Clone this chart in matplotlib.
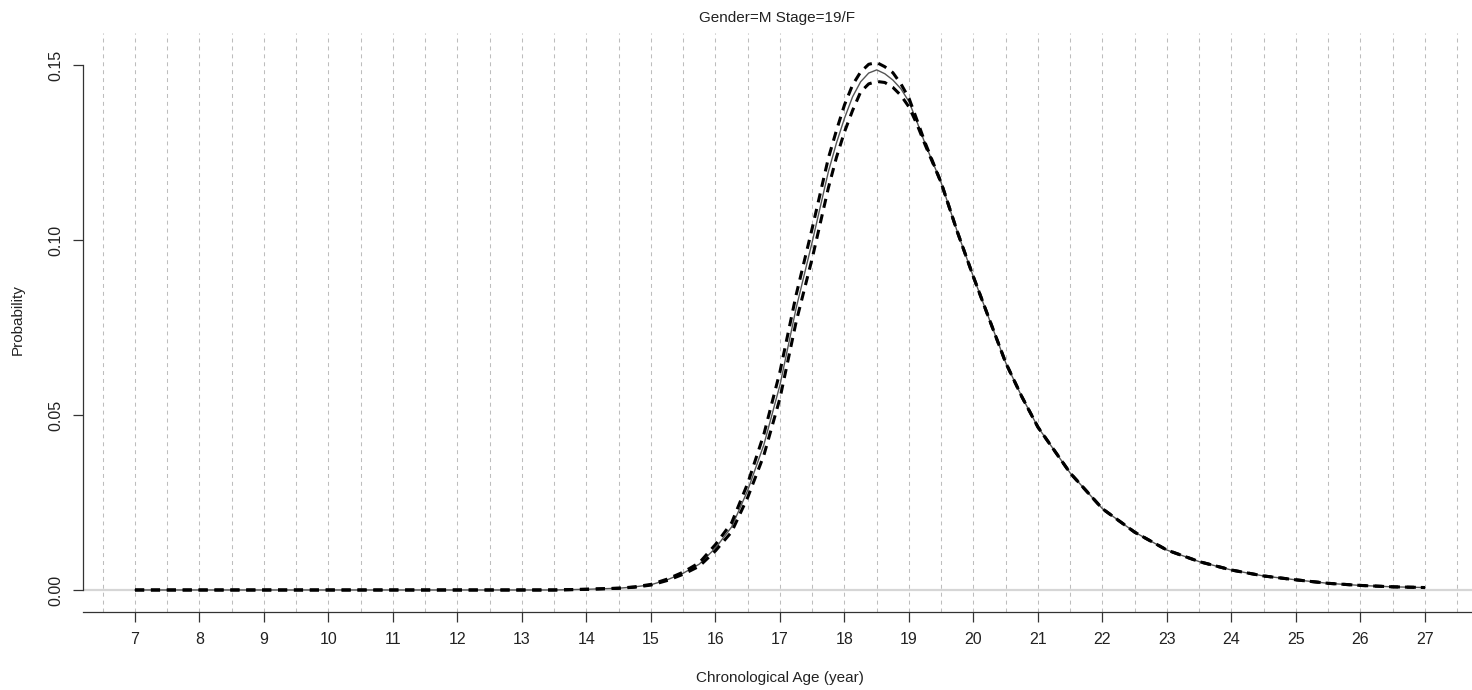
import matplotlib
matplotlib.use("Agg")
import matplotlib.pyplot as plt

plt.rcParams["font.family"] = ["Liberation Sans", "DejaVu Sans"]

# Chronological age grid (years)
ages = [7.0, 7.5, 8.0, 8.5, 9.0, 9.5, 10.0, 10.5, 11.0, 11.5, 12.0, 12.5,
        13.0, 13.5, 14.0, 14.5, 14.75, 15.0, 15.25, 15.5, 15.75, 16.0, 16.25,
        16.5, 16.75, 17.0, 17.25, 17.5, 17.75, 17.875, 18.0, 18.125, 18.25,
        18.375, 18.5, 18.625, 18.75, 18.875, 19.0, 19.125, 19.25, 19.5,
        19.75, 20.0, 20.25, 20.5, 20.75, 21.0, 21.5, 22.0, 22.5, 23.0, 23.5,
        24.0, 24.5, 25.0, 25.5, 26.0, 26.5, 27.0]

# Estimated probability density
prob_mid = [0.0, 0.0, 0.0, 0.0, 0.0, 0.0, 0.0, 0.0, 0.0, 0.0, 0.0, 0.0,
            0.0, 0.0, 0.0002, 0.0005, 0.0009, 0.0015, 0.0029, 0.0048, 0.0074,
            0.0120, 0.0180, 0.0285, 0.0415, 0.0586, 0.0805, 0.0995, 0.1195,
            0.1277, 0.1348, 0.1409, 0.1452, 0.1477, 0.1486, 0.1475, 0.1457,
            0.1432, 0.1395, 0.1337, 0.1275, 0.1163, 0.1023, 0.0894, 0.0771,
            0.0649, 0.0552, 0.0465, 0.0334, 0.0232, 0.0165, 0.0114, 0.0081,
            0.0057, 0.0040, 0.0029, 0.0019, 0.0013, 0.0009, 0.0007]

# Upper confidence band
prob_hi = [0.0, 0.0, 0.0, 0.0, 0.0, 0.0, 0.0, 0.0, 0.0, 0.0, 0.0, 0.0,
           0.0, 0.0, 0.0002, 0.0005, 0.0009, 0.0016, 0.0031, 0.0051, 0.0078,
           0.0130, 0.0192, 0.0305, 0.0445, 0.0624, 0.0843, 0.1034, 0.1234,
           0.1313, 0.1386, 0.1443, 0.1480, 0.1502, 0.1507, 0.1495, 0.1478,
           0.1446, 0.1405, 0.1342, 0.1278, 0.1163, 0.1023, 0.0894, 0.0771,
           0.0649, 0.0552, 0.0465, 0.0334, 0.0232, 0.0165, 0.0114, 0.0081,
           0.0057, 0.0040, 0.0029, 0.0019, 0.0013, 0.0009, 0.0007]

# Lower confidence band
prob_lo = [0.0, 0.0, 0.0, 0.0, 0.0, 0.0, 0.0, 0.0, 0.0, 0.0, 0.0, 0.0,
           0.0, 0.0, 0.0002, 0.0005, 0.0008, 0.0014, 0.0027, 0.0045, 0.0068,
           0.0112, 0.0166, 0.0265, 0.0385, 0.0548, 0.0766, 0.0948, 0.1149,
           0.1236, 0.1309, 0.1370, 0.1423, 0.1446, 0.1453, 0.1450, 0.1436,
           0.1413, 0.1380, 0.1330, 0.1272, 0.1163, 0.1023, 0.0894, 0.0771,
           0.0649, 0.0552, 0.0465, 0.0334, 0.0232, 0.0165, 0.0114, 0.0081,
           0.0057, 0.0040, 0.0029, 0.0019, 0.0013, 0.0009, 0.0007]

x_ticks = list(range(7, 28))
y_ticks = [0.00, 0.05, 0.10, 0.15]
y_tick_labels = ["0.00", "0.05", "0.10", "0.15"]
grid_ages = [6.5 + 0.5 * i for i in range(43)]

title = "Gender=M Stage=19/F"
x_title = "Chronological Age (year)"
y_title = "Probability"

W, H = 1472, 690
fig = plt.figure(figsize=(W / 100, H / 100), dpi=100)

left_px, right_px = 83.4, 1476.6
top_px, bottom_px = 33.0, 612.0
ax = fig.add_axes([left_px / W, (H - bottom_px) / H,
                   (right_px - left_px) / W, (bottom_px - top_px) / H])
ax.set_xlim(6.2, 27.8)
ax.set_ylim(-0.00629, 0.15914)

# half-year reference lines
for g in grid_ages:
    ax.axvline(g, color="#bdbdbd", lw=0.75, dashes=(3.8, 3.8), zorder=1)
ax.axhline(0.0, color="#d6d6d6", lw=1.6, zorder=1)

ax.plot(ages, prob_mid, color="#555555", lw=1.0, zorder=3,
        solid_joinstyle="round")
ax.plot(ages, prob_hi, color="black", lw=2.2, dashes=(3.0, 2.2), zorder=4,
        dash_joinstyle="round")
ax.plot(ages, prob_lo, color="black", lw=2.2, dashes=(3.0, 2.2), zorder=4,
        dash_joinstyle="round")

for side in ("top", "right"):
    ax.spines[side].set_visible(False)
ax.spines["left"].set_bounds(0.0, 0.15)
for side in ("left", "bottom"):
    ax.spines[side].set_color("#333333")
    ax.spines[side].set_linewidth(0.9)

ax.set_xticks(x_ticks)
ax.set_xticklabels([str(t) for t in x_ticks])
ax.set_yticks(y_ticks)
ax.set_yticklabels(y_tick_labels, rotation=90, va="center")
ax.tick_params(axis="both", direction="out", length=7.2, width=0.9,
               color="#333333", labelcolor="#222222", labelsize=11.5, pad=7)

fig.text(777 / W, 1 - 18 / H, title, ha="center", va="center",
         fontsize=11, color="#222222")
fig.text(780 / W, 1 - 678 / H, x_title, ha="center", va="center",
         fontsize=11, color="#222222")
fig.text(18 / W, 1 - 320 / H, y_title, ha="center", va="center",
         rotation=90, fontsize=11, color="#222222")

fig.savefig("out.png", dpi=100)
